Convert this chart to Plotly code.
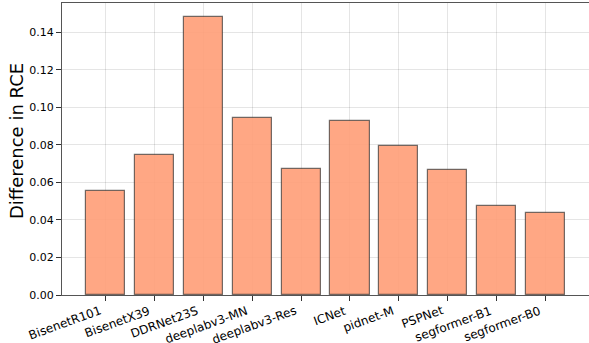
import plotly.graph_objects as go

models = ["BisenetR101", "BisenetX39", "DDRNet23S", "deeplabv3-MN", "deeplabv3-Res",
          "ICNet", "pidnet-M", "PSPNet", "segformer-B1", "segformer-B0"]
rce_diff = [0.0556, 0.0745, 0.1480, 0.0942, 0.0673, 0.0926, 0.0796, 0.0668, 0.0476, 0.0436]
y_ticks = [0.00, 0.02, 0.04, 0.06, 0.08, 0.10, 0.12, 0.14]

positions = list(range(len(models)))

fig = go.Figure(go.Bar(
    x=positions,
    y=rce_diff,
    width=0.8,
    marker=dict(color="rgba(255,160,122,0.92)",
                line=dict(color="rgba(40,40,40,0.65)", width=1.2)),
))

font = "DejaVu Sans, sans-serif"
fig.update_layout(
    width=589, height=343,
    margin=dict(l=62, r=0, t=3, b=48),
    paper_bgcolor="white", plot_bgcolor="white",
    font=dict(family=font, size=11, color="black"),
    showlegend=False,
    bargap=0,
)
fig.update_xaxes(
    tickmode="array", tickvals=positions, showticklabels=False,
    range=[-0.89, 9.89],
    automargin=False,
    showgrid=True, gridcolor="rgba(0,0,0,0.1)", gridwidth=1,
    showline=True, mirror=True, linecolor="#555", linewidth=1.2,
    ticks="outside", ticklen=5, tickcolor="#333", tickwidth=1,
    zeroline=False,
)
fig.update_yaxes(
    tickmode="array", tickvals=y_ticks, ticktext=[f"{v:.2f}" for v in y_ticks],
    range=[0, 0.1555],
    tickfont=dict(size=11),
    automargin=False,
    showgrid=True, gridcolor="rgba(0,0,0,0.1)", gridwidth=1,
    showline=True, linecolor="#555", linewidth=1.2,
    ticks="outside", ticklen=5, tickcolor="#333", tickwidth=1,
    zeroline=False,
)

# rotated category labels: the rotated box's top-right corner sits under each tick
for pos, name in zip(positions, models):
    fig.add_annotation(
        text=name, textangle=-20, showarrow=False,
        xref="x", yref="paper", x=pos, y=0,
        xanchor="right", yanchor="top", yshift=-6,
        font=dict(size=12, family=font, color="black"),
    )

# y-axis title placed as a rotated annotation in the left margin
fig.add_annotation(
    text="Difference in RCE", textangle=-90, showarrow=False,
    xref="paper", yref="paper", x=-0.0873, y=0.527,
    xanchor="center", yanchor="middle",
    font=dict(size=18, family=font, color="black"),
)

fig.write_html("out.html")
